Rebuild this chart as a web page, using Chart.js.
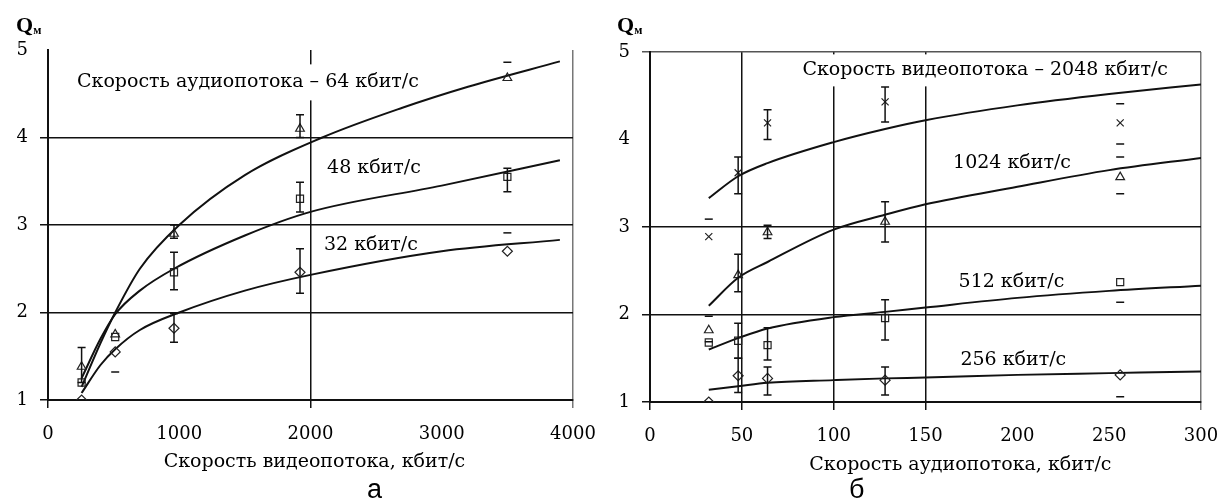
<!DOCTYPE html>
<html>
<head>
<meta charset="utf-8">
<script src="https://cdn.jsdelivr.net/npm/chart.js@4.4.0/dist/chart.umd.min.js"></script>
<style>
  html, body { margin: 0; padding: 0; background: #fff; overflow: hidden; }
  body { width: 1219px; height: 504px; position: relative; }
  .panel { position: absolute; top: 0; }
  .qm { position: absolute; top: 12px; font: bold 22px "Liberation Serif", serif; color: #000; }
  .qm sub { font-size: 12px; vertical-align: -2px; }
  .letter { position: absolute; top: 474px; font: 27px "Liberation Sans", Arial, sans-serif; color: #000; }
</style>
</head>
<body>
<canvas id="chartA" class="panel" width="600" height="480" style="left:0"></canvas>
<canvas id="chartB" class="panel" width="619" height="480" style="left:600px"></canvas>
<div class="qm" style="left:16px">Q<sub>м</sub></div>
<div class="qm" style="left:617px">Q<sub>м</sub></div>
<div class="letter" style="left:367px">а</div>
<div class="letter" style="left:849px">б</div>
<script>
// ---- (а) Qм от скорости видеопотока ----
var videoRates = [256, 512, 960, 1920, 3500];
var audioLabels = ['Скорость аудиопотока – 64 кбит/с', '48 кбит/с', '32 кбит/с'];

var q64 = [1.38, 1.75, 2.9, 4.1, 4.68];
var q64Lo = [1.2, null, 2.85, 4.0, null];
var q64Hi = [1.6, null, 3.0, 4.26, 4.86];
var q48 = [1.2, 1.72, 2.46, 3.3, 3.55];
var q48Lo = [null, null, 2.26, 3.15, 3.38];
var q48Hi = [null, null, 2.69, 3.49, 3.65];
var q32 = [1.0, 1.55, 1.82, 2.46, 2.7];
var q32Lo = [null, 1.32, 1.66, 2.22, null];
var q32Hi = [null, null, 1.99, 2.73, 2.91];

// trend curves
var trendX64 = [256, 400, 512, 700, 1000, 1500, 2090, 2700, 3200, 3900];
var trend64 = [1.15, 1.65, 2.0, 2.5, 3.0, 3.57, 4.0, 4.34, 4.58, 4.87];
var trendX48 = [256, 400, 512, 700, 960, 1500, 2000, 3000, 3900];
var trend48 = [1.25, 1.7, 1.98, 2.25, 2.5, 2.88, 3.15, 3.45, 3.74];
var trendX32 = [256, 400, 512, 700, 1000, 1500, 2000, 3000, 3900];
var trend32 = [1.08, 1.4, 1.58, 1.8, 2.0, 2.25, 2.43, 2.7, 2.83];

var xTicksA = [0, 1000, 2000, 3000, 4000];
var yTicks = [1, 2, 3, 4, 5];

// ---- (б) Qм от скорости аудиопотока ----
var audioRates = [32, 48, 64, 128, 256];
var videoLabels = ['Скорость видеопотока – 2048 кбит/с', '1024 кбит/с', '512 кбит/с', '256 кбит/с'];

var q2048 = [2.89, 3.62, 4.19, 4.43, 4.19];
var q2048Lo = [null, 3.38, 4.0, 4.2, 3.95];
var q2048Hi = [3.09, 3.8, 4.34, 4.6, 4.41];
var q1024 = [1.82, 2.45, 2.94, 3.06, 3.57];
var q1024Lo = [1.69, 2.26, 2.87, 2.83, 3.38];
var q1024Hi = [1.98, 2.69, 3.02, 3.29, 3.8];
var q512 = [1.68, 1.7, 1.65, 1.96, 2.37];
var q512Lo = [null, 1.5, 1.48, 1.71, 2.14];
var q512Hi = [null, 1.9, 1.85, 2.17, null];
var q256 = [1.0, 1.3, 1.27, 1.25, 1.31];
var q256Lo = [null, 1.11, 1.08, 1.08, 1.06];
var q256Hi = [null, 1.5, 1.4, 1.4, null];

var trendXB = [32, 48, 64, 100, 128, 150, 200, 250, 300];
var trend2048 = [3.33, 3.58, 3.73, 3.97, 4.12, 4.22, 4.39, 4.52, 4.63];
var trend1024 = [2.1, 2.42, 2.6, 2.97, 3.14, 3.26, 3.46, 3.65, 3.79];
var trend512 = [1.6, 1.73, 1.84, 1.97, 2.03, 2.08, 2.19, 2.27, 2.33];
var trend256 = [1.14, 1.18, 1.22, 1.25, 1.27, 1.28, 1.31, 1.33, 1.35];

var xTicksB = [0, 50, 100, 150, 200, 250, 300];

var serif = '"DejaVu Serif", serif';
var ink = '#111';

function pts(xs, ys) {
  return xs.map(function (x, i) { return { x: x, y: ys[i] }; });
}

function markers(xs, ys, lo, hi, stem, style) {
  return {
    data: pts(xs, ys),
    showLine: false,
    pointStyle: style,
    pointRadius: 5,
    borderColor: '#222',
    backgroundColor: 'rgba(255,255,255,0)',
    borderWidth: 1.2,
    errLo: lo, errHi: hi, errStem: stem
  };
}

function trend(xs, ys) {
  return {
    data: pts(xs, ys),
    showLine: true,
    pointRadius: 0,
    borderColor: ink,
    borderWidth: 2,
    tension: 0.4,
    cubicInterpolationMode: 'monotone',
    fill: false
  };
}

// error bars with little caps
const errorBars = {
  id: 'errorBars',
  afterDatasetsDraw(chart) {
    const ctx = chart.ctx, xs = chart.scales.x, ys = chart.scales.y;
    ctx.save();
    ctx.strokeStyle = ink;
    ctx.lineWidth = 1.5;
    chart.data.datasets.forEach(function (ds) {
      if (!ds.errLo) return;
      ds.data.forEach(function (p, j) {
        const x = xs.getPixelForValue(p.x);
        const lo = ds.errLo[j], hi = ds.errHi[j];
        ctx.beginPath();
        if (ds.errStem[j]) {
          ctx.moveTo(x, ys.getPixelForValue(lo == null ? p.y : lo));
          ctx.lineTo(x, ys.getPixelForValue(hi == null ? p.y : hi));
        }
        [lo, hi].forEach(function (v) {
          if (v == null) return;
          const y = ys.getPixelForValue(v);
          ctx.moveTo(x - 4, y);
          ctx.lineTo(x + 4, y);
        });
        ctx.stroke();
      });
    });
    ctx.restore();
  }
};

// curve labels (white box behind) and free axis title
const curveLabels = {
  id: 'curveLabels',
  beforeDatasetsDraw(chart, args, opts) {
    const ctx = chart.ctx;
    ctx.save();
    ctx.font = opts.font;
    ctx.textBaseline = 'middle';
    ctx.textAlign = 'left';
    (opts.items || []).forEach(function (it) {
      const x = chart.scales.x.getPixelForValue(it.x);
      const y = chart.scales.y.getPixelForValue(it.y);
      const w = ctx.measureText(it.text).width;
      if (it.box) {
        ctx.fillStyle = '#fff';
        ctx.fillRect(x - 4, y - it.box / 2, w + 8, it.box);
      }
      ctx.fillStyle = '#000';
      ctx.fillText(it.text, x, y);
    });
    if (opts.title) {
      ctx.textAlign = 'center';
      ctx.fillStyle = '#000';
      ctx.fillText(opts.title.text, chart.scales.x.getPixelForValue(opts.title.x), chart.chartArea.bottom + opts.title.offset);
    }
    ctx.restore();
  }
};

function noPad(s) { s.paddingLeft = 0; s.paddingRight = 0; s.paddingTop = 0; s.paddingBottom = 0; }

function axes(xMin, xMax, xTicks, gridX, gridY, yWidth, xHeight, xTitle) {
  return {
    x: {
      type: 'linear', min: xMin, max: xMax,
      afterBuildTicks: function (s) { s.ticks = xTicks.map(function (v) { return { value: v }; }); },
      afterFit: function (s) { s.height = xHeight; noPad(s); },
      grid: { color: gridX, lineWidth: 1.5, tickLength: 8 },
      border: { display: true, color: ink, width: 2 },
      ticks: { font: { family: serif, size: 18 }, color: '#000', padding: 16, maxRotation: 0,
               callback: function (v) { return String(v); } },
      title: xTitle
    },
    y: {
      type: 'linear', min: 1, max: 5,
      afterBuildTicks: function (s) { s.ticks = yTicks.map(function (v) { return { value: v }; }); },
      afterFit: function (s) { s.width = yWidth; noPad(s); },
      grid: { color: gridY, lineWidth: 1.5, tickLength: 8 },
      border: { display: true, color: ink, width: 2 },
      ticks: { font: { family: serif, size: 18 }, color: '#000', padding: 12,
               callback: function (v) { return String(v); } }
    }
  };
}

new Chart(document.getElementById('chartA'), {
  type: 'scatter',
  data: {
    datasets: [
      markers(videoRates, q64, q64Lo, q64Hi, [1, 0, 1, 1, 0], 'triangle'),
      markers(videoRates, q48, q48Lo, q48Hi, [0, 0, 1, 1, 1], 'rect'),
      markers(videoRates, q32, q32Lo, q32Hi, [0, 0, 1, 1, 0], 'rectRot'),
      trend(trendX64, trend64),
      trend(trendX48, trend48),
      trend(trendX32, trend32)
    ]
  },
  options: {
    responsive: false,
    animation: false,
    layout: { padding: { top: 50, right: 27, left: 0, bottom: 0 } },
    scales: axes(0, 4000, xTicksA,
      function (c) { var v = c.tick.value; return v === 4000 ? '#777' : (v % 2000 === 0 ? ink : 'rgba(0,0,0,0)'); },
      function (c) { return c.tick.value === 5 ? 'rgba(0,0,0,0)' : ink; },
      48, 80,
      { display: false }),
    plugins: {
      legend: { display: false },
      tooltip: { enabled: false },
      curveLabels: {
        font: '19px ' + serif,
        items: [
          { text: audioLabels[0], x: 221, y: 4.63, box: 36 },
          { text: audioLabels[1], x: 2126, y: 3.65 },
          { text: audioLabels[2], x: 2103, y: 2.77 }
        ],
        title: { text: 'Скорость видеопотока, кбит/с', x: 2030, offset: 62 }
      }
    }
  },
  plugins: [errorBars, curveLabels]
});

new Chart(document.getElementById('chartB'), {
  type: 'scatter',
  data: {
    datasets: [
      markers(audioRates, q2048, q2048Lo, q2048Hi, [0, 1, 1, 1, 0], 'crossRot'),
      markers(audioRates, q1024, q1024Lo, q1024Hi, [0, 1, 1, 1, 0], 'triangle'),
      markers(audioRates, q512, q512Lo, q512Hi, [0, 1, 1, 1, 0], 'rect'),
      markers(audioRates, q256, q256Lo, q256Hi, [0, 1, 1, 1, 0], 'rectRot'),
      trend(trendXB, trend2048),
      trend(trendXB, trend1024),
      trend(trendXB, trend512),
      trend(trendXB, trend256)
    ]
  },
  options: {
    responsive: false,
    animation: false,
    layout: { padding: { top: 52, right: 18, left: 0, bottom: 0 } },
    scales: axes(0, 300, xTicksB,
      function (c) { var v = c.tick.value; return v === 300 ? '#777' : (v <= 150 ? ink : 'rgba(0,0,0,0)'); },
      function (c) { var v = c.tick.value; return v === 4 ? 'rgba(0,0,0,0)' : (v === 5 ? '#555' : ink); },
      50, 78,
      { display: false }),
    plugins: {
      legend: { display: false },
      tooltip: { enabled: false },
      curveLabels: {
        font: '19px ' + serif,
        items: [
          { text: videoLabels[0], x: 83, y: 4.79, box: 32 },
          { text: videoLabels[1], x: 165, y: 3.73 },
          { text: videoLabels[2], x: 168, y: 2.37 },
          { text: videoLabels[3], x: 169, y: 1.48 }
        ],
        title: { text: 'Скорость аудиопотока, кбит/с', x: 169, offset: 63 }
      }
    }
  },
  plugins: [errorBars, curveLabels]
});
</script>
</body>
</html>
